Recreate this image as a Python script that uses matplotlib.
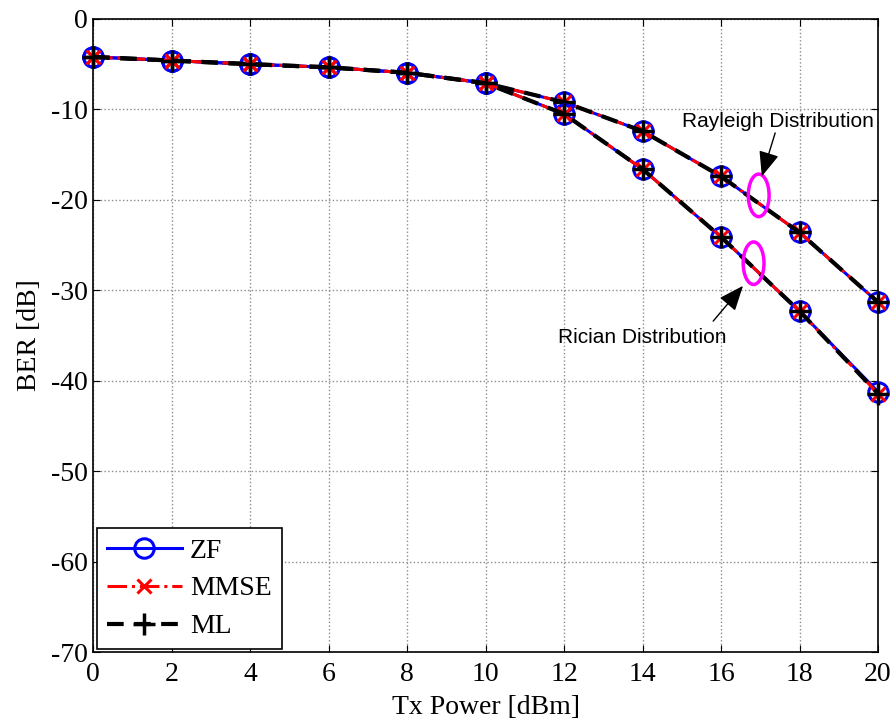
import matplotlib
matplotlib.use('Agg')
from matplotlib import pyplot as plt
from matplotlib.patches import Ellipse

tx_power = [0, 2, 4, 6, 8, 10, 12, 14, 16, 18, 20]

zf_rayleigh = [-4.2, -4.6, -5.0, -5.35, -5.95, -7.1, -9.2, -12.4, -17.4, -23.6, -31.3]
mmse_rayleigh = [-4.2, -4.6, -5.0, -5.35, -5.95, -7.1, -9.2, -12.4, -17.4, -23.6, -31.3]
ml_rayleigh = [-4.2, -4.6, -5.0, -5.35, -5.95, -7.1, -9.2, -12.4, -17.4, -23.6, -31.3]

zf_rician = [-4.2, -4.6, -5.0, -5.35, -5.95, -7.1, -10.5, -16.6, -24.1, -32.3, -41.2]
mmse_rician = [-4.2, -4.6, -5.0, -5.35, -5.95, -7.1, -10.5, -16.6, -24.1, -32.3, -41.4]
ml_rician = [-4.2, -4.6, -5.0, -5.35, -5.95, -7.1, -10.5, -16.6, -24.1, -32.3, -41.4]

plt.rcParams['font.family'] = ['Liberation Serif', 'DejaVu Serif']
plt.rcParams['axes.unicode_minus'] = False

fig = plt.figure(figsize=(8.95, 7.28), dpi=100)
ax = fig.add_axes([0.104, 0.104, 0.877, 0.870])

zf_style = dict(color='blue', linestyle='-', linewidth=2.2, marker='o', markersize=14,
                markerfacecolor='none', markeredgewidth=2.2, clip_on=False)
mmse_style = dict(color='red', linestyle='-.', linewidth=2.2, marker='x', markersize=10,
                  markeredgewidth=2.2, clip_on=False)
ml_style = dict(color='black', linestyle='--', linewidth=3, marker='+', markersize=16,
                markeredgewidth=2.5, dashes=(4, 2.5), clip_on=False)

ax.plot(tx_power, zf_rayleigh, label='ZF', **zf_style)
ax.plot(tx_power, mmse_rayleigh, label='MMSE', **mmse_style)
ax.plot(tx_power, ml_rayleigh, label='ML', **ml_style)
ax.plot(tx_power, zf_rician, **zf_style)
ax.plot(tx_power, mmse_rician, **mmse_style)
ax.plot(tx_power, ml_rician, **ml_style)

# ellipses round the curve pairs
ax.add_patch(Ellipse((16.96, -19.5), 0.53, 4.7, fill=False, edgecolor='magenta', linewidth=2.5, zorder=5))
ax.add_patch(Ellipse((16.83, -27.0), 0.53, 4.7, fill=False, edgecolor='magenta', linewidth=2.5, zorder=5))

arrow = dict(arrowstyle='-|>,head_length=1.1,head_width=0.45', color='black', lw=1,
             mutation_scale=14, shrinkA=0, shrinkB=0)
ax.annotate('', xy=(17.04, -17.4), xytext=(17.38, -12.6), arrowprops=arrow, zorder=6)
ax.annotate('', xy=(16.56, -29.5), xytext=(15.80, -33.4), arrowprops=arrow, zorder=6)
ax.text(17.45, -11.3, 'Rayleigh Distribution', family=['Liberation Sans', 'DejaVu Sans'],
        fontsize=15, ha='center', va='center')
ax.text(13.99, -35.2, 'Rician Distribution', family=['Liberation Sans', 'DejaVu Sans'],
        fontsize=15, ha='center', va='center')

ax.set_xlim(0, 20)
ax.set_ylim(-70, 0)
ax.set_xticks(range(0, 21, 2))
ax.set_yticks(range(-70, 1, 10))
ax.grid(True, color='0.55', linestyle=':', linewidth=1)
ax.tick_params(direction='in', top=True, right=True, labelsize=20, length=5)
ax.tick_params(axis='x', pad=7)
ax.tick_params(axis='y', pad=4)
for s in ax.spines.values():
    s.set_linewidth(1.2)

ax.set_xlabel('Tx Power [dBm]', fontsize=20, labelpad=6)
ax.set_ylabel('BER [dB]', fontsize=20, labelpad=6)

leg = ax.legend(loc='lower left', bbox_to_anchor=(0.005, 0.005), borderaxespad=0,
                fontsize=20, handlelength=2.7, handletextpad=0.3, labelspacing=0.45,
                fancybox=False, framealpha=1, edgecolor='black', borderpad=0.35)
leg.get_frame().set_linewidth(1.2)

fig.savefig('out.png', dpi=100)
